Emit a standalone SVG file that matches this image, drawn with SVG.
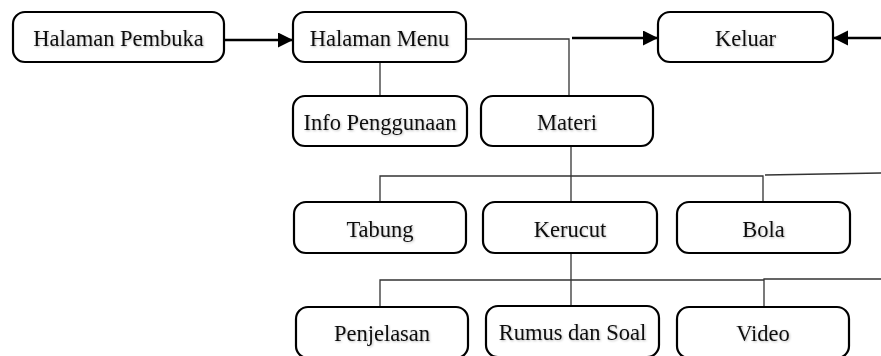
<svg xmlns="http://www.w3.org/2000/svg" width="881" height="356" viewBox="0 0 881 356">
<style>
.box{fill:#fff;stroke:#000;stroke-width:2.2}
.lbl{font-family:"Liberation Serif","Times New Roman",serif;font-size:22.5px;fill:#111;text-anchor:middle;filter:url(#sh)}
.thin{fill:none;stroke:#333;stroke-width:1.3}
.arr{fill:none;stroke:#000;stroke-width:2.6;marker-end:url(#ah)}
</style>
<defs>
<marker id="ah" markerUnits="userSpaceOnUse" markerWidth="16" markerHeight="16" refX="15" refY="7.5" orient="auto">
<path d="M0,0 L15,7.5 L0,15 Z" fill="#000"/>
</marker>
<filter id="sh" x="-10%" y="-30%" width="120%" height="160%">
<feDropShadow dx="1" dy="1" stdDeviation="0.8" flood-color="#000" flood-opacity="0.25"/>
</filter>
</defs>
<g id="connectors">
<line class="arr" x1="224" y1="40" x2="293" y2="40"/>
<line class="thin" x1="380" y1="62" x2="380" y2="96"/>
<polyline class="thin" points="466,39 569,39 569,96"/>
<line class="arr" x1="572" y1="38" x2="658" y2="38"/>
<line class="arr" x1="881" y1="38" x2="833" y2="38"/>
<line class="thin" x1="571" y1="146" x2="571" y2="202"/>
<polyline class="thin" points="380,202 380,176 763,176 763,202"/>
<line class="thin" x1="765" y1="175" x2="881" y2="173"/>
<line class="thin" x1="571" y1="250" x2="571" y2="306"/>
<polyline class="thin" points="380,307 380,280 764,280"/>
<polyline class="thin" points="764,307 764,279 881,279"/>
</g>
<g id="halaman-pembuka"><rect class="box" x="13" y="12" width="211" height="50" rx="12"/><text class="lbl" x="118.5" y="46">Halaman Pembuka</text></g>
<g id="halaman-menu"><rect class="box" x="293" y="12" width="173" height="50" rx="12"/><text class="lbl" x="379.5" y="46">Halaman Menu</text></g>
<g id="keluar"><rect class="box" x="658" y="12" width="175" height="50" rx="12"/><text class="lbl" x="745.5" y="46">Keluar</text></g>
<g id="info-penggunaan"><rect class="box" x="293" y="96" width="174" height="50" rx="12"/><text class="lbl" x="380" y="130">Info Penggunaan</text></g>
<g id="materi"><rect class="box" x="481" y="96" width="172" height="50" rx="12"/><text class="lbl" x="567" y="130">Materi</text></g>
<g id="tabung"><rect class="box" x="294" y="202" width="172" height="51" rx="12"/><text class="lbl" x="380" y="237">Tabung</text></g>
<g id="kerucut"><rect class="box" x="483" y="202" width="174" height="51" rx="12"/><text class="lbl" x="570" y="237">Kerucut</text></g>
<g id="bola"><rect class="box" x="677" y="202" width="173" height="51" rx="12"/><text class="lbl" x="763.5" y="237">Bola</text></g>
<g id="penjelasan"><rect class="box" x="296" y="307" width="172" height="51" rx="12"/><text class="lbl" x="382" y="341">Penjelasan</text></g>
<g id="rumus-dan-soal"><rect class="box" x="486" y="306" width="173" height="51" rx="12"/><text class="lbl" x="572.5" y="340">Rumus dan Soal</text></g>
<g id="video"><rect class="box" x="677" y="307" width="172" height="51" rx="12"/><text class="lbl" x="763" y="341">Video</text></g>
</svg>
